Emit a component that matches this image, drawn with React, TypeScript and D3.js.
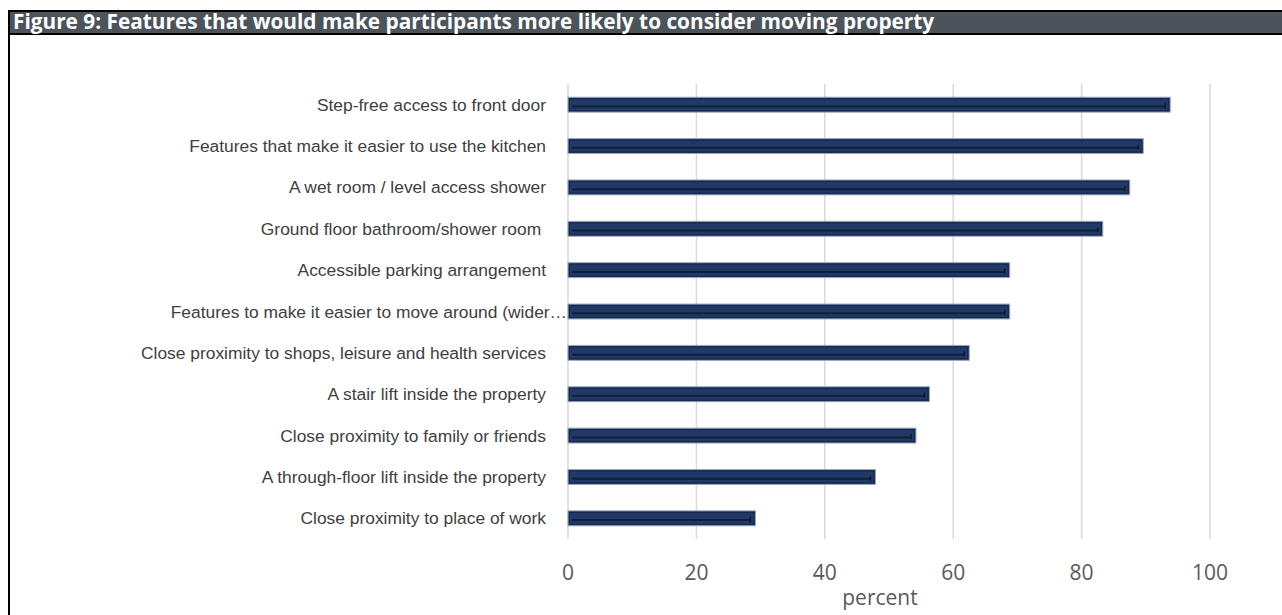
import React from "react";
import * as d3 from "d3";

const TITLE = "Figure 9: Features that would make participants more likely to consider moving property";
const categories = [
  "Step-free access to front door",
  "Features that make it easier to use the kitchen",
  "A wet room / level access shower",
  "Ground floor bathroom/shower room ",
  "Accessible parking arrangement",
  "Features to make it easier to move around (wider…",
  "Close proximity to shops, leisure and health services",
  "A stair lift inside the property",
  "Close proximity to family or friends",
  "A through-floor lift inside the property",
  "Close proximity to place of work",
];
const values = [93.8, 89.6, 87.5, 83.3, 68.8, 68.8, 62.5, 56.3, 54.2, 47.9, 29.2];
const ticks = [0, 20, 40, 60, 80, 100];
const axisTitle = "percent";

const W = 1282;
const H = 615;

export default function App() {
  const x = d3.scaleLinear().domain([0, 100]).range([568, 1210]);
  const y = d3.scaleBand<string>().domain(categories).range([84, 539]).paddingInner(0.64).paddingOuter(0.32);
  const bw = y.bandwidth();

  return (
    <svg width={W} height={H} style={{ position: "absolute", left: 0, top: 0, background: "#fff" }}>
      {/* header */}
      <rect x={8} y={11} width={W - 8} height={23} fill="#4b535b" />
      <line x1={8} x2={W} y1={11} y2={11} stroke="#000" strokeWidth={2} />
      <line x1={8} x2={W} y1={34} y2={34} stroke="#000" strokeWidth={2} />
      <line x1={9} x2={9} y1={10} y2={H} stroke="#000" strokeWidth={2} />
      <text x={13} y={29} fill="#fff" fontFamily="'Open Sans', sans-serif" fontWeight={700} fontSize={20.8}>
        {TITLE}
      </text>

      {/* gridlines */}
      {ticks.map((t) => (
        <line key={t} x1={x(t)} x2={x(t)} y1={84} y2={539} stroke="#d9d9d9" strokeWidth={1.5} />
      ))}

      {/* bars */}
      {categories.map((c, i) => {
        const y0 = y(c)!;
        const x0 = x(0);
        const x1 = x(values[i]);
        return (
          <g key={c}>
            <rect x={x0} y={y0} width={x1 - x0} height={bw} fill="#213966" stroke="#9aa5ba" strokeWidth={1} />
            <rect x={x0 + 1.5} y={y0 + 1.5} width={x1 - x0 - 3} height={bw - 3} fill="none" stroke="#16264a" strokeWidth={1} />
            <line x1={x0 + 4} x2={x1 - 5} y1={y0 + bw * 0.62} y2={y0 + bw * 0.62} stroke="#121f3b" strokeWidth={2} />
            <line x1={x1 - 5} x2={x1 - 5} y1={y0 + bw * 0.4} y2={y0 + bw * 0.75} stroke="#0d1730" strokeWidth={1.5} />
          </g>
        );
      })}

      {/* category labels */}
      {categories.map((c) => (
        <text
          key={c}
          x={c.endsWith("…") ? 567 : 546}
          y={y(c)! + bw / 2}
          dy="0.35em"
          textAnchor="end"
          fill="#404040"
          fontFamily="'Liberation Sans', Arial, sans-serif"
          fontSize={17.4}
          style={{ whiteSpace: "pre" }}
        >
          {c}
        </text>
      ))}

      {/* tick labels */}
      {ticks.map((t) => (
        <text key={t} x={x(t)} y={580} textAnchor="middle" fill="#595959" fontFamily="'Open Sans', sans-serif" fontSize={21}>
          {t}
        </text>
      ))}
      <text x={880} y={605} textAnchor="middle" fill="#595959" fontFamily="'Open Sans', sans-serif" fontSize={21}>
        {axisTitle}
      </text>
    </svg>
  );
}
